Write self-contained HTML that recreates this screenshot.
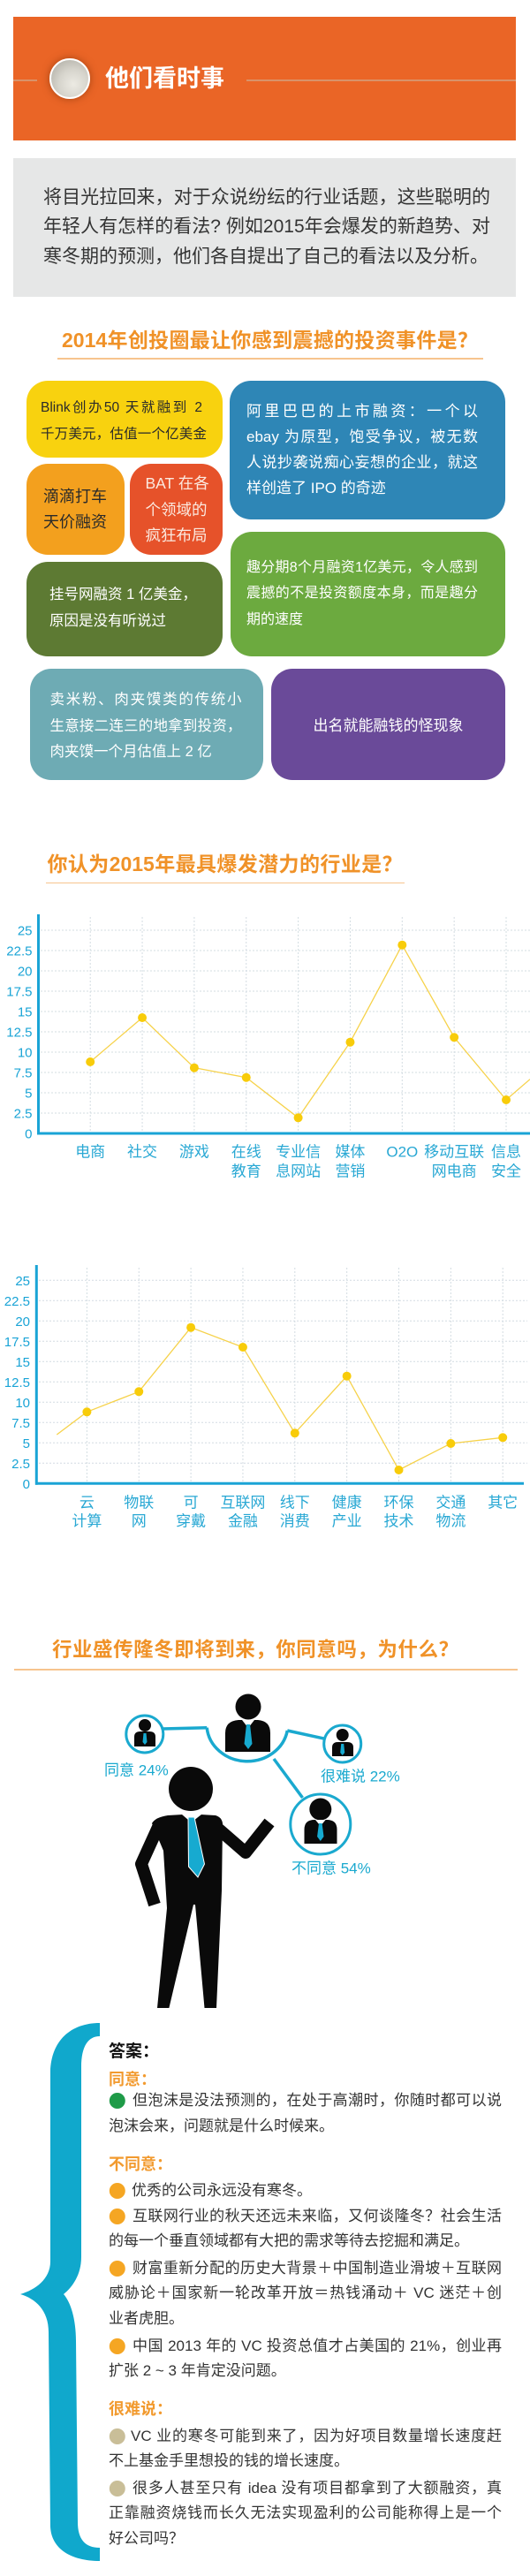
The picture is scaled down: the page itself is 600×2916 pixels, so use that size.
<!DOCTYPE html>
<html>
<head>
<meta charset="utf-8">
<style>
html,body{margin:0;padding:0;background:#fff;}
body{width:600px;height:2916px;position:relative;overflow:hidden;}
.t{position:absolute;white-space:nowrap;font-family:"Liberation Sans","Noto Sans CJK SC",sans-serif;}
.j{text-align:justify;text-align-last:justify;white-space:normal;}
.b{position:absolute;}
.box{position:absolute;border-radius:24px;}
.ans{font-size:17px;line-height:28px;height:28px;color:#333;}
.hd{font-size:18px;line-height:28px;height:28px;color:#f29a2e;font-weight:bold;}
</style>
</head>
<body>

<!-- Header -->
<div class="b" style="left:15px;top:19px;width:569px;height:140px;background:#ea6526;"></div>
<div class="b" style="left:15px;top:90px;width:27px;height:2px;background:#d9936a;"></div>
<div class="b" style="left:279px;top:90px;width:305px;height:2px;background:#d9936a;"></div>
<div class="b" style="left:55.5px;top:66px;width:46px;height:46px;border-radius:50%;box-sizing:border-box;border:2px solid #fff;background:radial-gradient(circle at 60% 65%,#eceae3 0%,#d6d4cc 45%,#a9a69d 100%);box-shadow:0 0 9px rgba(110,40,0,0.55);"></div>
<div class="t" style="left:119px;top:71px;font-size:27px;line-height:36px;font-weight:bold;color:#fff;">他们看时事</div>

<!-- Intro gray box -->
<div class="b" style="left:15px;top:179px;width:569px;height:157px;background:#e6e7e7;"></div>
<div class="t j" style="left:49px;top:209px;width:506px;font-size:21px;line-height:30px;height:30px;color:#333;">将目光拉回来，对于众说纷纭的行业话题，这些聪明的</div>
<div class="t j" style="left:49px;top:242px;width:506px;font-size:21px;line-height:30px;height:30px;color:#333;">年轻人有怎样的看法? 例如2015年会爆发的新趋势、对</div>
<div class="t" style="left:49px;top:276px;font-size:21px;line-height:30px;height:30px;color:#333;">寒冬期的预测，他们各自提出了自己的看法以及分析。</div>

<!-- Section 2 title -->
<div class="t j" style="left:70px;top:369px;width:471px;font-size:23px;line-height:32px;height:32px;font-weight:bold;color:#f09228;">2014年创投圈最让你感到震撼的投资事件是？</div>
<div class="b" style="left:65px;top:405px;width:482px;height:1.5px;background:#f7c48e;"></div>

<!-- Boxes -->
<div class="box" style="left:30px;top:431px;width:222px;height:87px;background:#f8d20f;"></div>
<div class="box" style="left:260px;top:431px;width:312px;height:157px;background:#2e86b6;"></div>
<div class="box" style="left:30px;top:525px;width:111px;height:103px;background:#f3a01e;"></div>
<div class="box" style="left:147px;top:525px;width:105px;height:103px;background:#e6522a;"></div>
<div class="box" style="left:30px;top:636px;width:222px;height:107px;background:#5d7a33;"></div>
<div class="box" style="left:261px;top:602px;width:311px;height:141px;background:#6caa3f;"></div>
<div class="box" style="left:34px;top:757px;width:264px;height:126px;background:#6eabb4;"></div>
<div class="box" style="left:307px;top:757px;width:265px;height:126px;background:#6a4a99;"></div>

<!-- yellow -->
<div class="t j" style="left:46px;top:450px;width:183px;font-size:15.5px;line-height:24px;height:24px;color:#2a2a2a;">Blink创办50 天就融到 2</div>
<div class="t j" style="left:46px;top:480px;width:188px;font-size:15.5px;line-height:24px;height:24px;color:#2a2a2a;">千万美元，估值一个亿美金</div>
<!-- blue -->
<div class="t j" style="left:279px;top:453px;width:262px;font-size:17px;line-height:26px;height:26px;color:#fff;">阿里巴巴的上市融资：一个以</div>
<div class="t j" style="left:279px;top:482px;width:262px;font-size:17px;line-height:26px;height:26px;color:#fff;">ebay 为原型，饱受争议，被无数</div>
<div class="t j" style="left:279px;top:511px;width:262px;font-size:17px;line-height:26px;height:26px;color:#fff;">人说抄袭说痴心妄想的企业，就这</div>
<div class="t" style="left:279px;top:540px;font-size:17px;line-height:26px;height:26px;color:#fff;">样创造了 IPO 的奇迹</div>
<!-- orange -->
<div class="t" style="left:49px;top:549px;font-size:18px;line-height:26px;height:26px;color:#2a2a2a;">滴滴打车</div>
<div class="t" style="left:49px;top:578px;font-size:18px;line-height:26px;height:26px;color:#2a2a2a;">天价融资</div>
<!-- red -->
<div class="t" style="left:164.5px;top:534px;font-size:17.5px;line-height:26px;height:26px;color:#fbe9df;">BAT 在各</div>
<div class="t" style="left:164.5px;top:564px;font-size:17.5px;line-height:26px;height:26px;color:#fbe9df;">个领域的</div>
<div class="t" style="left:164.5px;top:593px;font-size:17.5px;line-height:26px;height:26px;color:#fbe9df;">疯狂布局</div>
<!-- dark green -->
<div class="t" style="left:56px;top:661px;font-size:16.5px;line-height:24px;height:24px;color:#fff;">挂号网融资 1 亿美金，</div>
<div class="t" style="left:56px;top:691px;font-size:16.5px;line-height:24px;height:24px;color:#fff;">原因是没有听说过</div>
<!-- light green -->
<div class="t j" style="left:279px;top:631px;width:262px;font-size:16px;line-height:24px;height:24px;color:#fff;">趣分期8个月融资1亿美元，令人感到</div>
<div class="t j" style="left:279px;top:660px;width:262px;font-size:16px;line-height:24px;height:24px;color:#fff;">震撼的不是投资额度本身，而是趣分</div>
<div class="t" style="left:279px;top:690px;font-size:16px;line-height:24px;height:24px;color:#fff;">期的速度</div>
<!-- teal -->
<div class="t j" style="left:56.5px;top:780px;width:217px;font-size:16.5px;line-height:24px;height:24px;color:#fff;">卖米粉、肉夹馍类的传统小</div>
<div class="t j" style="left:56.5px;top:810px;width:217px;font-size:16.5px;line-height:24px;height:24px;color:#fff;">生意接二连三的地拿到投资，</div>
<div class="t" style="left:56.5px;top:839px;font-size:16.5px;line-height:24px;height:24px;color:#fff;">肉夹馍一个月估值上 2 亿</div>
<!-- purple -->
<div class="t" style="left:307px;top:810px;width:265px;text-align:center;font-size:17px;line-height:24px;height:24px;color:#fff;">出名就能融钱的怪现象</div>

<!-- Chart 1 title -->
<div class="t j" style="left:53.5px;top:962px;width:402px;font-size:23px;line-height:32px;height:32px;font-weight:bold;color:#f09228;">你认为2015年最具爆发潜力的行业是？</div>
<div class="b" style="left:52px;top:998.5px;width:406px;height:1.5px;background:#f7c48e;"></div>

<!-- Section 4 title -->
<div class="t j" style="left:59px;top:1852px;width:460px;font-size:22.5px;line-height:32px;height:32px;font-weight:bold;color:#f09228;">行业盛传隆冬即将到来，你同意吗，为什么？</div>
<div class="b" style="left:16px;top:1889px;width:570px;height:1.5px;background:#f7c48e;"></div>

<!-- Answers text -->
<div class="t" style="left:123px;top:2308px;font-size:19px;line-height:30px;height:30px;font-weight:bold;color:#111;">答案：</div>
<div class="t hd" style="left:123px;top:2340px;">同意：</div>
<div class="t j ans" style="left:150px;top:2364px;width:418px;">但泡沫是没法预测的，在处于高潮时，你随时都可以说</div>
<div class="t ans" style="left:123px;top:2393px;">泡沫会来，问题就是什么时候来。</div>
<div class="t hd" style="left:123px;top:2436px;">不同意：</div>
<div class="t ans" style="left:149px;top:2466px;">优秀的公司永远没有寒冬。</div>
<div class="t j ans" style="left:150px;top:2495px;width:418px;">互联网行业的秋天还远未来临，又何谈隆冬？社会生活</div>
<div class="t ans" style="left:123px;top:2523px;">的每一个垂直领域都有大把的需求等待去挖掘和满足。</div>
<div class="t j ans" style="left:150px;top:2554px;width:418px;">财富重新分配的历史大背景＋中国制造业滑坡＋互联网</div>
<div class="t j ans" style="left:123px;top:2582px;width:445px;">威胁论＋国家新一轮改革开放＝热钱涌动＋ VC 迷茫＋创</div>
<div class="t ans" style="left:123px;top:2611px;">业者虎胆。</div>
<div class="t j ans" style="left:150px;top:2642px;width:418px;">中国 2013 年的 VC 投资总值才占美国的 21%，创业再</div>
<div class="t ans" style="left:123px;top:2670px;">扩张 2 ~ 3 年肯定没问题。</div>
<div class="t hd" style="left:123px;top:2713px;">很难说：</div>
<div class="t j ans" style="left:148px;top:2744px;width:420px;">VC 业的寒冬可能到来了，因为好项目数量增长速度赶</div>
<div class="t ans" style="left:123px;top:2772px;">不上基金手里想投的钱的增长速度。</div>
<div class="t j ans" style="left:150px;top:2803px;width:418px;">很多人甚至只有 idea 没有项目都拿到了大额融资，真</div>
<div class="t j ans" style="left:123px;top:2831px;width:445px;">正靠融资烧钱而长久无法实现盈利的公司能称得上是一个</div>
<div class="t ans" style="left:123px;top:2860px;">好公司吗？</div>

<svg class="b" style="left:0;top:0;" width="600" height="2916" viewBox="0 0 600 2916" xmlns="http://www.w3.org/2000/svg" font-family="Liberation Sans, Noto Sans CJK SC, sans-serif">
  <!-- ===== Chart 1 ===== -->
  <g stroke="#d3dce2" stroke-width="1" stroke-dasharray="2 2" fill="none">
    <line x1="46" y1="1260" x2="600" y2="1260"/>
    <line x1="46" y1="1237" x2="600" y2="1237"/>
    <line x1="46" y1="1214" x2="600" y2="1214"/>
    <line x1="46" y1="1191" x2="600" y2="1191"/>
    <line x1="46" y1="1168" x2="600" y2="1168"/>
    <line x1="46" y1="1145" x2="600" y2="1145"/>
    <line x1="46" y1="1122" x2="600" y2="1122"/>
    <line x1="46" y1="1099" x2="600" y2="1099"/>
    <line x1="46" y1="1076" x2="600" y2="1076"/>
    <line x1="46" y1="1053" x2="600" y2="1053"/>
    <line x1="102.2" y1="1038" x2="102.2" y2="1281"/>
    <line x1="161.05" y1="1038" x2="161.05" y2="1281"/>
    <line x1="219.9" y1="1038" x2="219.9" y2="1281"/>
    <line x1="278.75" y1="1038" x2="278.75" y2="1281"/>
    <line x1="337.6" y1="1038" x2="337.6" y2="1281"/>
    <line x1="396.45" y1="1038" x2="396.45" y2="1281"/>
    <line x1="455.3" y1="1038" x2="455.3" y2="1281"/>
    <line x1="514.15" y1="1038" x2="514.15" y2="1281"/>
    <line x1="573" y1="1038" x2="573" y2="1281"/>
  </g>
  <line x1="43.5" y1="1035" x2="43.5" y2="1284.5" stroke="#1aa4d6" stroke-width="3"/>
  <line x1="42" y1="1283" x2="600" y2="1283" stroke="#1aa4d6" stroke-width="3"/>
  <g fill="#1aa4d6" font-size="15" text-anchor="end">
    <text x="36.5" y="1288.5">0</text>
    <text x="36.5" y="1265.5">2.5</text>
    <text x="36.5" y="1242.5">5</text>
    <text x="36.5" y="1219.5">7.5</text>
    <text x="36.5" y="1196.5">10</text>
    <text x="36.5" y="1173.5">12.5</text>
    <text x="36.5" y="1150.5">15</text>
    <text x="36.5" y="1127.5">17.5</text>
    <text x="36.5" y="1104.5">20</text>
    <text x="36.5" y="1081.5">22.5</text>
    <text x="36.5" y="1058.5">25</text>
  </g>
  <polyline fill="none" stroke="#f6d24a" stroke-width="1.3" points="102.2,1202 161.05,1152 219.9,1208.7 278.75,1219.7 337.6,1265.3 396.45,1179.7 455.3,1069.7 514.15,1174.3 573,1245 600,1221.7"/>
  <g fill="#f8cc0a">
    <circle cx="102.2" cy="1202" r="5"/>
    <circle cx="161.05" cy="1152" r="5"/>
    <circle cx="219.9" cy="1208.7" r="5"/>
    <circle cx="278.75" cy="1219.7" r="5"/>
    <circle cx="337.6" cy="1265.3" r="5"/>
    <circle cx="396.45" cy="1179.7" r="5"/>
    <circle cx="455.3" cy="1069.7" r="5"/>
    <circle cx="514.15" cy="1174.3" r="5"/>
    <circle cx="573" cy="1245" r="5"/>
  </g>
  <g fill="#29a8d4" font-size="17" text-anchor="middle">
    <text x="102.2" y="1309.5">电商</text>
    <text x="161.05" y="1309.5">社交</text>
    <text x="219.9" y="1309.5">游戏</text>
    <text x="278.75" y="1309.5">在线</text>
    <text x="278.75" y="1331.5">教育</text>
    <text x="337.6" y="1309.5">专业信</text>
    <text x="337.6" y="1331.5">息网站</text>
    <text x="396.45" y="1309.5">媒体</text>
    <text x="396.45" y="1331.5">营销</text>
    <text x="455.3" y="1309.5">O2O</text>
    <text x="514.15" y="1309.5">移动互联</text>
    <text x="514.15" y="1331.5">网电商</text>
    <text x="573" y="1309.5">信息</text>
    <text x="573" y="1331.5">安全</text>
  </g>

  <!-- ===== Chart 2 ===== -->
  <g stroke="#d3dce2" stroke-width="1" stroke-dasharray="2 2" fill="none">
    <line x1="44" y1="1656.3" x2="597" y2="1656.3"/>
    <line x1="44" y1="1633.3" x2="597" y2="1633.3"/>
    <line x1="44" y1="1610.3" x2="597" y2="1610.3"/>
    <line x1="44" y1="1587.3" x2="597" y2="1587.3"/>
    <line x1="44" y1="1564.3" x2="597" y2="1564.3"/>
    <line x1="44" y1="1541.3" x2="597" y2="1541.3"/>
    <line x1="44" y1="1518.3" x2="597" y2="1518.3"/>
    <line x1="44" y1="1495.3" x2="597" y2="1495.3"/>
    <line x1="44" y1="1472.3" x2="597" y2="1472.3"/>
    <line x1="44" y1="1449.3" x2="597" y2="1449.3"/>
    <line x1="98.4" y1="1435" x2="98.4" y2="1677"/>
    <line x1="157.25" y1="1435" x2="157.25" y2="1677"/>
    <line x1="216.1" y1="1435" x2="216.1" y2="1677"/>
    <line x1="274.95" y1="1435" x2="274.95" y2="1677"/>
    <line x1="333.8" y1="1435" x2="333.8" y2="1677"/>
    <line x1="392.65" y1="1435" x2="392.65" y2="1677"/>
    <line x1="451.5" y1="1435" x2="451.5" y2="1677"/>
    <line x1="510.35" y1="1435" x2="510.35" y2="1677"/>
    <line x1="569.2" y1="1435" x2="569.2" y2="1677"/>
  </g>
  <line x1="41.3" y1="1432" x2="41.3" y2="1680.8" stroke="#1aa4d6" stroke-width="3"/>
  <line x1="40" y1="1679.3" x2="593" y2="1679.3" stroke="#1aa4d6" stroke-width="3"/>
  <g fill="#1aa4d6" font-size="15" text-anchor="end">
    <text x="34" y="1684.8">0</text>
    <text x="34" y="1661.8">2.5</text>
    <text x="34" y="1638.8">5</text>
    <text x="34" y="1615.8">7.5</text>
    <text x="34" y="1592.8">10</text>
    <text x="34" y="1569.8">12.5</text>
    <text x="34" y="1546.8">15</text>
    <text x="34" y="1523.8">17.5</text>
    <text x="34" y="1500.8">20</text>
    <text x="34" y="1477.8">22.5</text>
    <text x="34" y="1454.8">25</text>
  </g>
  <polyline fill="none" stroke="#f6d24a" stroke-width="1.3" points="64.3,1624 98.4,1598.3 157.25,1575.3 216.1,1502.7 274.95,1525 333.8,1622.3 392.65,1557.7 451.5,1664 510.35,1634 569.2,1627.3"/>
  <g fill="#f8cc0a">
    <circle cx="98.4" cy="1598.3" r="5"/>
    <circle cx="157.25" cy="1575.3" r="5"/>
    <circle cx="216.1" cy="1502.7" r="5"/>
    <circle cx="274.95" cy="1525" r="5"/>
    <circle cx="333.8" cy="1622.3" r="5"/>
    <circle cx="392.65" cy="1557.7" r="5"/>
    <circle cx="451.5" cy="1664" r="5"/>
    <circle cx="510.35" cy="1634" r="5"/>
    <circle cx="569.2" cy="1627.3" r="5"/>
  </g>
  <g fill="#29a8d4" font-size="17" text-anchor="middle">
    <text x="98.4" y="1706.5">云</text>
    <text x="98.4" y="1727.5">计算</text>
    <text x="157.25" y="1706.5">物联</text>
    <text x="157.25" y="1727.5">网</text>
    <text x="216.1" y="1706.5">可</text>
    <text x="216.1" y="1727.5">穿戴</text>
    <text x="274.95" y="1706.5">互联网</text>
    <text x="274.95" y="1727.5">金融</text>
    <text x="333.8" y="1706.5">线下</text>
    <text x="333.8" y="1727.5">消费</text>
    <text x="392.65" y="1706.5">健康</text>
    <text x="392.65" y="1727.5">产业</text>
    <text x="451.5" y="1706.5">环保</text>
    <text x="451.5" y="1727.5">技术</text>
    <text x="510.35" y="1706.5">交通</text>
    <text x="510.35" y="1727.5">物流</text>
    <text x="569.2" y="1706.5">其它</text>
  </g>

  <!-- ===== Figure section ===== -->
  <g stroke="#1aa9cf" stroke-width="3.5" fill="none">
    <line x1="184" y1="1957" x2="234.2" y2="1955.7"/>
    <path d="M234.2,1955.7 A46 42 0 0 0 325.3,1959"/>
    <line x1="325.3" y1="1959" x2="368" y2="1968.3"/>
    <line x1="310" y1="1991" x2="342.5" y2="2035"/>
  </g>
  <g stroke="#1aa9cf" stroke-width="3" fill="#fff">
    <circle cx="163.8" cy="1963" r="21"/>
    <circle cx="387.7" cy="1974" r="21"/>
    <circle cx="362.8" cy="2065" r="34"/>
  </g>
  <!-- center person -->
  <circle cx="281" cy="1932" r="14.5" fill="#0a0a0a"/>
  <path d="M255,1983 L255,1962 Q255,1948 270,1947 L292,1947 Q306,1948 306,1962 L306,1983 Z" fill="#0a0a0a"/>
  <path d="M274,1947 L281,1956 L288,1947 Z" fill="#fff"/>
  <path d="M279,1952 L283,1952 L285.5,1974 L281,1980 L276.5,1974 Z" fill="#17aad0"/>
  <!-- left mini -->
  <circle cx="164" cy="1953" r="7" fill="#0a0a0a"/>
  <path d="M152,1977 L152,1966 Q152,1960 159,1960 L169,1960 Q176,1960 176,1966 L176,1977 Z" fill="#0a0a0a"/>
  <path d="M162.5,1962 L165.5,1962 L166.5,1972 L164,1975 L161.5,1972 Z" fill="#17aad0"/>
  <!-- right mini -->
  <circle cx="387.7" cy="1964" r="7" fill="#0a0a0a"/>
  <path d="M376,1988 L376,1978 Q376,1972 383,1972 L393,1972 Q400,1972 400,1978 L400,1988 Z" fill="#0a0a0a"/>
  <path d="M386.2,1974 L389.2,1974 L390.2,1984 L387.7,1987 L385.2,1984 Z" fill="#17aad0"/>
  <!-- bottom person -->
  <circle cx="362.8" cy="2048" r="12.5" fill="#0a0a0a"/>
  <path d="M344.5,2087 L344.5,2071 Q344.5,2060 356,2060 L370,2060 Q381.5,2060 381.5,2071 L381.5,2087 Z" fill="#0a0a0a"/>
  <path d="M357,2060 L362.8,2067 L368.6,2060 Z" fill="#fff"/>
  <path d="M361,2064 L364.6,2064 L366.5,2079 L362.8,2084 L359.1,2079 Z" fill="#17aad0"/>

  <g fill="#1aa9cf" font-size="17">
    <text x="118" y="2009.5">同意  24%</text>
    <text x="363" y="2016.5">很难说  22%</text>
    <text x="330" y="2120.5">不同意  54%</text>
  </g>

  <!-- big man -->
  <circle cx="216" cy="2025" r="25" fill="#0a0a0a"/>
  <polyline points="180,2066 160,2110 175,2156" fill="none" stroke="#0a0a0a" stroke-width="14" stroke-linejoin="round"/>
  <polyline points="240,2064 278,2097 305,2063" fill="none" stroke="#0a0a0a" stroke-width="14" stroke-linejoin="round"/>
  <path d="M172,2064 Q176,2057 190,2055 L207,2054 L227,2054 L244,2055 Q251,2057 252,2064 L251,2140 L245,2273 L231.5,2273 L221,2156 L219,2156 L191.4,2273 L178,2273 L189,2160 L185,2095 Z" fill="#0a0a0a"/>
  <path d="M206,2054 L216.5,2063 L228,2054 Z" fill="#fff"/>
  <path d="M213,2057 L220,2057 L231.5,2110 L224,2125 L213.5,2113 Z" fill="#17aad0" stroke="#fff" stroke-width="1"/>

  <!-- brace -->
  <path d="M113,2290 C80,2290 58,2310 57,2345 L57,2560 C57,2580 40,2592 23,2597 C40,2602 55,2615 55,2640 L57,2860 C58,2885 80,2899 113,2899 L113,2884 C96,2884 88,2874 88,2855 L86,2650 C86,2625 80,2606 72,2597 C82,2589 92,2575 92,2555 L92,2340 C92,2316 100,2305 113,2305 Z" fill="#10a8cc"/>

  <!-- bullets -->
  <circle cx="132.8" cy="2378" r="9" fill="#1f9b48"/>
  <circle cx="132.8" cy="2480" r="9" fill="#f5a623"/>
  <circle cx="132.8" cy="2509" r="9" fill="#f5a623"/>
  <circle cx="132.8" cy="2568" r="9" fill="#f5a623"/>
  <circle cx="132.8" cy="2656" r="9" fill="#f5a623"/>
  <circle cx="132.8" cy="2758" r="9" fill="#c9be98"/>
  <circle cx="132.8" cy="2817" r="9" fill="#c9be98"/>
</svg>

</body>
</html>
